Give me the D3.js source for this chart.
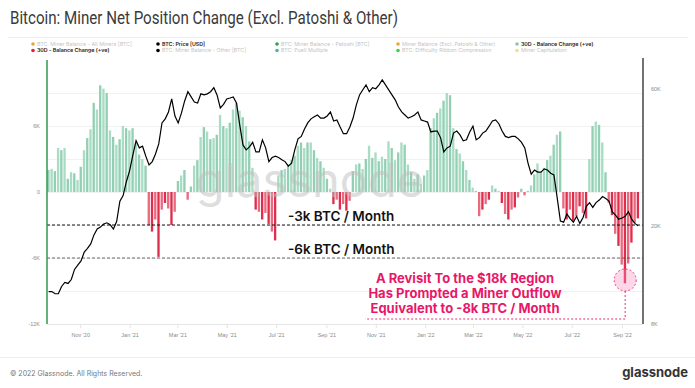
<!DOCTYPE html>
<html>
<head>
<meta charset="utf-8">
<script src="https://cdn.jsdelivr.net/npm/d3@7"></script>
<style>
  body { margin: 0; background: #fff; }
  svg { display: block; font-family: Inter, "Noto Sans", sans-serif; }
</style>
</head>
<body>
<div id="chart"></div>
<script>
// 30D balance change (K BTC), one value every 4 days starting 2020-09-23
const barStart = '2020-09-23';
const barStepDays = 4;
const balanceChange = [
  2.0, 2.1, 1.9, 4.0, 3.8, 4.0, 1.2, 1.8, 1.7, 1.1, 2.3, 3.8, 4.9, 5.7, 8.1, 7.5, 9.7, 9.4, 9.0, 5.6,
  5.0, 4.3, 4.8, 6.0, 5.8, 5.6, 5.8, 4.4, 3.4, 3.0, 2.4, -3.0, -3.6, -2.5, -5.9, -1.6, -1.0, -1.5, -3.0, -1.8,
  1.0, 1.5, 2.0, -0.7, 0.5, 2.4, 2.9, 5.0, 5.9, 5.5, 4.8, 4.9, 5.2, 7.0, 6.0, 5.8, 6.3, 7.5, 8.1, 7.4,
  6.8, 6.0, 4.6, 2.2, -1.6, -1.8, -2.5, -1.9, -2.9, -3.6, -4.4, 1.5, 2.0, 2.1, 2.5, 2.9, 3.3, 4.2, 4.5, 4.0,
  4.5, 4.5, 3.8, 3.1, 2.8, 2.2, 1.2, 0.3, -1.1, -0.7, -1.6, -1.1, -1.7, -0.8, 1.9, 2.5, 2.6, 2.1, 3.0, 4.2,
  3.1, 3.6, 2.8, 3.2, 3.0, 4.6, 4.0, 2.9, 3.6, 4.5, 4.3, 2.5, 1.8, 1.2, 1.6, 0.7, 1.5, 2.0, 5.8, 6.7,
  7.2, 7.6, 8.3, 9.0, 8.8, 5.8, 3.9, 3.5, 2.8, 2.0, 1.1, 0.4, 0.1, -2.2, -1.6, -1.1, -0.7, 0.6, 0.3, 0.1,
  -1.0, -2.0, -2.5, -1.6, -1.4, -0.5, 0.3, -0.3, 0.1, 0.6, 1.6, 2.6, 1.8, 2.2, 2.9, 3.3, 4.3, 5.2, 5.5, -1.5,
  -2.5, -1.6, -2.6, -2.2, -1.3, -1.9, -2.4, 3.0, 6.0, 6.4, 6.1, 4.5, 1.8, -1.0, -2.1, -3.8, -4.9, -6.6, -8.3, -6.5,
  -4.6, -2.8, -2.4
];

// BTC price (K USD), same dates as the bars
const btcPrice = [
  11.8, 11.8, 11.6, 11.6, 12.3, 12.7, 12.6, 13.0, 14.1, 14.6, 15.1, 16.2, 16.7, 17.3, 18.6, 19.5, 19.8, 20.3, 20.5, 20.2,
  19.5, 20.7, 24.4, 25.5, 28.5, 31.1, 35.3, 39.6, 37.4, 37.9, 35.0, 32.6, 33.5, 35.6, 38.6, 45.7, 47.2, 49.9, 55.4, 48.3,
  45.7, 49.4, 54.5, 58.7, 56.3, 54.0, 53.6, 57.7, 57.2, 57.7, 58.7, 60.6, 57.2, 51.5, 53.0, 55.4, 55.8, 56.3, 53.6, 45.0,
  38.3, 36.8, 37.7, 39.1, 36.2, 36.2, 39.9, 37.4, 33.5, 34.6, 35.0, 34.6, 34.0, 33.5, 32.3, 33.1, 36.8, 40.2, 41.0, 43.5,
  45.7, 47.2, 48.0, 48.7, 47.5, 47.5, 48.3, 49.9, 46.4, 46.8, 44.2, 41.9, 41.9, 44.2, 47.5, 52.8, 57.2, 59.6, 62.0, 58.7,
  60.6, 60.1, 62.0, 64.5, 62.0, 59.6, 57.2, 55.0, 51.9, 49.9, 48.7, 47.5, 48.0, 48.7, 49.9, 46.8, 46.4, 46.0, 42.5, 42.8,
  42.8, 40.6, 36.2, 37.4, 37.9, 42.1, 42.8, 41.5, 39.6, 39.9, 42.5, 44.5, 39.9, 40.6, 42.1, 42.8, 44.5, 46.4, 46.8, 45.4,
  42.8, 41.0, 40.6, 41.0, 41.0, 40.2, 39.1, 37.4, 33.1, 30.3, 31.3, 30.8, 30.8, 31.6, 31.3, 30.5, 30.1, 25.1, 20.8, 20.6,
  22.0, 21.2, 20.6, 21.6, 20.4, 21.4, 23.4, 24.1, 23.2, 24.1, 24.6, 25.3, 24.9, 24.4, 22.4, 21.8, 21.1, 21.3, 21.6, 22.4,
  21.1, 20.4, 20.0
];

const leftTicks = [-12, -6, 0, 6];
const leftTickLabels = ['-12K', '-6K', '0', '6K'];
const gridValues = [-9, -6, -3, 0, 3, 6, 9];
const priceTicks = [9.1, 20, 60];
const priceTickLabels = ['8K', '20K', '60K'];
const monthTicks = ['2020-11-01', '2021-01-01', '2021-03-01', '2021-05-01', '2021-07-01', '2021-09-01',
  '2021-11-01', '2022-01-01', '2022-03-01', '2022-05-01', '2022-07-01', '2022-09-01'];
const monthLabels = ["Nov '20", "Jan '21", "Mar '21", "May '21", "Jul '21", "Sep '21",
  "Nov '21", "Jan '22", "Mar '22", "May '22", "Jul '22", "Sep '22"];

const thresholds = [
  { value: -3, label: '-3k BTC / Month' },
  { value: -6, label: '-6k BTC / Month' }
];
const calloutValue = -8;
const calloutLines = ['A Revisit To the $18k Region', 'Has Prompted a Miner Outflow', 'Equivalent to -8k BTC / Month'];

const legendItems = [
  { label: 'BTC: Miner Balance - All Miners [BTC]', color: '#f0a33a', active: false },
  { label: 'BTC: Price [USD]', color: '#000', active: true },
  { label: 'BTC: Miner Balance - Patoshi [BTC]', color: '#3c9a52', active: false },
  { label: 'Miner Balance (Excl. Patoshi & Other)', color: '#f0a33a', active: false },
  { label: '30D - Balance Change (+ve)', color: '#8cc9aa', active: true },
  { label: '30D - Balance Change (+ve)', color: '#e0223f', active: true },
  { label: 'BTC: Miner Balance - Other [BTC]', color: '#000', active: false },
  { label: 'BTC: Puell Multiple', color: '#4fb59a', active: false },
  { label: 'BTC: Difficulty Ribbon Compression', color: '#3fd23f', active: false },
  { label: 'Miner Capitulation', color: '#f7dc95', active: false }
];

const W = 695, H = 388;
const plot = { left: 47, right: 643, top: 60, bottom: 324 };

const parse = d3.timeParse('%Y-%m-%d');
const t0 = parse(barStart);
const dates = balanceChange.map((d, i) => d3.timeDay.offset(t0, i * barStepDays));

const svg = d3.select('#chart').append('svg').attr('width', W).attr('height', H);

// titolo
svg.append('text')
  .attr('x', 10).attr('y', 24)
  .attr('font-size', 17.5)
  .attr('font-family', 'Roboto, sans-serif')
  .attr('fill', '#3a3a3a')
  .attr('textLength', 388)
  .attr('lengthAdjust', 'spacingAndGlyphs')
  .text('Bitcoin: Miner Net Position Change (Excl. Patoshi & Other)');

svg.append('line').attr('x1', 8).attr('x2', 688).attr('y1', 37.5).attr('y2', 37.5)
  .attr('stroke', '#ececec');

// scale
const x = d3.scaleTime().domain([parse('2020-09-21'), parse('2022-09-27')]).range([plot.left, plot.right]);
const y = d3.scaleLinear().domain([-12, 12]).range([plot.bottom, plot.top]);
const yPrice = d3.scaleLog().domain([9.1, 75.7]).range([plot.bottom, plot.top]);

// griglia
svg.append('g').selectAll('line').data(gridValues).join('line')
  .attr('x1', plot.left).attr('x2', plot.right)
  .attr('y1', d => y(d) + 0.5).attr('y2', d => y(d) + 0.5)
  .attr('stroke', '#f1f1f1');

svg.append('line').attr('x1', plot.left).attr('x2', plot.right)
  .attr('y1', plot.bottom + 0.5).attr('y2', plot.bottom + 0.5).attr('stroke', '#e6e6e6');

// barre (linee sottili tipo giornaliero)
const bw = x(d3.timeDay.offset(t0, barStepDays)) - x(t0);
svg.append('g').selectAll('rect').data(balanceChange).join('rect')
  .attr('x', (d, i) => x(dates[i]) - bw / 2 + 0.2)
  .attr('width', bw - 0.9)
  .attr('y', d => d >= 0 ? y(d) : y(0))
  .attr('height', d => Math.abs(y(d) - y(0)))
  .attr('fill', (d, i) => d >= 0 ? (i % 2 ? '#a9dcc4' : '#93d0b3') : (i % 2 ? '#ea6a80' : '#de2e4b'));

// watermark
svg.append('text')
  .attr('x', 310).attr('y', 197)
  .attr('text-anchor', 'middle')
  .attr('font-size', 47)
  .attr('font-weight', 400)
  .attr('fill', 'rgba(190,190,190,0.5)')
  .text('glassnode');

// linee soglia
thresholds.forEach((t, i) => {
  svg.append('line')
    .attr('x1', plot.left).attr('x2', plot.right)
    .attr('y1', y(t.value)).attr('y2', y(t.value))
    .attr('stroke', i === 0 ? '#111' : '#444')
    .attr('stroke-width', i === 0 ? 1 : 0.8)
    .attr('stroke-dasharray', '3,2');
  svg.append('text')
    .attr('x', 288).attr('y', y(t.value) - 4)
    .attr('font-size', 13.5).attr('font-weight', 600)
    .attr('fill', '#111')
    .text(t.label);
});

// linea prezzo
svg.append('path')
  .datum(btcPrice)
  .attr('fill', 'none')
  .attr('stroke', '#000')
  .attr('stroke-width', 1.2)
  .attr('d', d3.line().x((d, i) => x(dates[i])).y(d => yPrice(d)));

// callout
const minIdx = d3.minIndex(balanceChange);
const cx = x(dates[minIdx]), cy = y(calloutValue), r = 11;
svg.append('circle').attr('cx', cx).attr('cy', cy).attr('r', r)
  .attr('fill', 'rgba(245,140,185,0.35)')
  .attr('stroke', '#e8166a').attr('stroke-width', 0.8).attr('stroke-dasharray', '2,2');
svg.append('path')
  .attr('d', `M${cx},${cy + r} V319 H365`)
  .attr('fill', 'none').attr('stroke', '#e8166a').attr('stroke-width', 0.9).attr('stroke-dasharray', '2,2');
svg.append('g').selectAll('text').data(calloutLines).join('text')
  .attr('x', 465).attr('y', (d, i) => 283 + i * 15)
  .attr('text-anchor', 'middle')
  .attr('font-size', 13).attr('font-weight', 700)
  .attr('fill', '#e8176a')
  .text(d => d);

// assi
svg.append('line').attr('x1', plot.left).attr('x2', plot.left)
  .attr('y1', plot.top).attr('y2', plot.bottom).attr('stroke', '#2f9a4c').attr('stroke-width', 1.5);
svg.append('line').attr('x1', plot.right).attr('x2', plot.right)
  .attr('y1', plot.top - 2).attr('y2', plot.bottom).attr('stroke', '#444').attr('stroke-width', 1.5);

const axisStyle = g => {
  g.select('.domain').remove();
  g.selectAll('text').attr('fill', '#8a8a8a').attr('font-size', 5.5);
  g.selectAll('.tick line').remove();
};

svg.append('g')
  .attr('transform', `translate(${plot.left - 4},0)`)
  .call(d3.axisLeft(y).tickValues(leftTicks).tickFormat((d, i) => leftTickLabels[i]).tickSize(0))
  .call(axisStyle);

svg.append('g')
  .attr('transform', `translate(${plot.right + 5},0)`)
  .call(d3.axisRight(yPrice).tickValues(priceTicks).tickFormat((d, i) => priceTickLabels[i]).tickSize(0))
  .call(axisStyle);

svg.append('g')
  .attr('transform', `translate(0,${plot.bottom})`)
  .call(d3.axisBottom(x).tickValues(monthTicks.map(parse)).tickFormat((d, i) => monthLabels[i]).tickSize(4).tickPadding(5))
  .call(g => {
    g.select('.domain').remove();
    g.selectAll('text').attr('fill', '#8a8a8a').attr('font-size', 5.5);
    g.selectAll('.tick line').attr('stroke', '#e4e4e4');
  });

// legenda
const legendX = [33, 158, 277, 398, 517];
const legend = svg.append('g');
legendItems.forEach((d, i) => {
  const gx = legendX[i % 5], gy = i < 5 ? 44 : 50.5;
  legend.append('circle').attr('cx', gx).attr('cy', gy).attr('r', 1.8).attr('fill', d.color);
  legend.append('text').attr('x', gx + 4).attr('y', gy + 1.9)
    .attr('font-size', 5.3)
    .attr('font-weight', d.active ? 600 : 400)
    .attr('fill', d.active ? '#222' : '#c4c4c4')
    .text(d.label);
});

// footer
svg.append('line').attr('x1', 0).attr('x2', W).attr('y1', 357.5).attr('y2', 357.5).attr('stroke', '#eee');
svg.append('text').attr('x', 10).attr('y', 376)
  .attr('font-size', 7).attr('fill', '#777')
  .text('© 2022 Glassnode. All Rights Reserved.');
svg.append('text').attr('x', 688).attr('y', 377)
  .attr('text-anchor', 'end')
  .attr('font-size', 13).attr('font-weight', 700).attr('fill', '#333')
  .text('glassnode');
</script>
</body>
</html>
